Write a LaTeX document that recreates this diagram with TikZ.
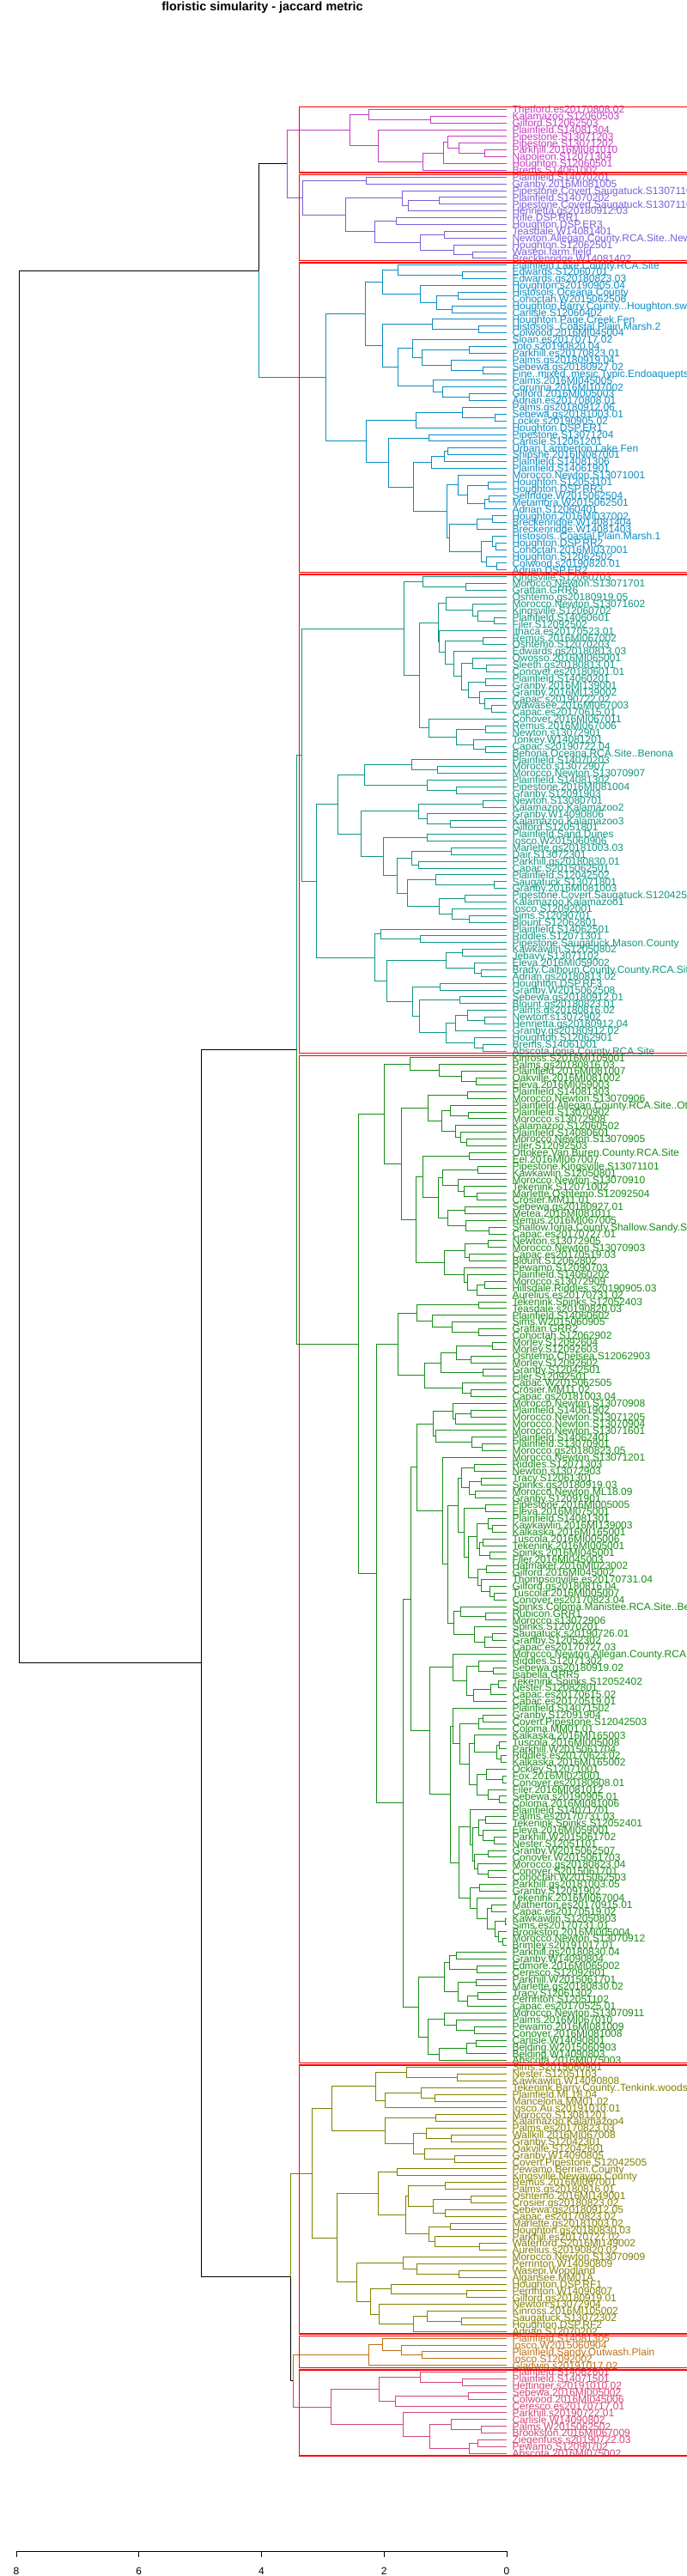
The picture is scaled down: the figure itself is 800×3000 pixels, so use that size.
\documentclass[tikz,border=0pt]{standalone}
\usepackage{fontspec}
\setmainfont{Liberation Sans}
\definecolor{magC}{HTML}{C43CC0}
\definecolor{purC}{HTML}{7B5CDA}
\definecolor{bluC}{HTML}{0A8CC2}
\definecolor{tealC}{HTML}{0E9682}
\definecolor{grnC}{HTML}{168C16}
\definecolor{oliC}{HTML}{808000}
\definecolor{oraC}{HTML}{BE6E14}
\definecolor{pnkC}{HTML}{D2467A}
\newcount\leafc
\newcount\labc
\newcount\spc
\def\dl{\global\advance\leafc by 1\relax
 \pgfmathsetmacro\tmpy{127.3+(\the\leafc-1)*7.89}%
 \global\advance\spc by 1\relax
 \expandafter\xdef\csname sy\the\spc\endcsname{\tmpy}%
 \expandafter\gdef\csname sx\the\spc\endcsname{590}}
\def\popb{\edef\yb{\csname sy\the\spc\endcsname}\edef\xb{\csname sx\the\spc\endcsname}\global\advance\spc by -1\relax
 \edef\ya{\csname sy\the\spc\endcsname}\edef\xa{\csname sx\the\spc\endcsname}\pgfmathsetmacro\ym{(\ya+\yb)/2}}
\def\pushm#1{\expandafter\xdef\csname sy\the\spc\endcsname{\ym}\expandafter\xdef\csname sx\the\spc\endcsname{#1}}
\def\mg#1{\popb\draw[dbr] (\xa,\ya) -- (#1,\ya) -- (#1,\yb) -- (\xb,\yb);\pushm{#1}}
\def\pq#1{\dl\dl\mg{#1}}
\def\mj#1#2#3{\popb\draw[lw,draw=#2] (\xa,\ya) -- (#1,\ya) -- (#1,\ym);\draw[lw,draw=#3] (\xb,\yb) -- (#1,\yb) -- (#1,\ym);\pushm{#1}}
\makeatletter
\def\labs#1#2{\@for\tlab:=#2\do{\global\advance\labc by 1\relax
 \pgfmathsetmacro\yl{127.3+(\the\labc-1)*7.89+4.3}%
 \node[lab,text=#1] (lb\the\labc) at (596.3,\yl) {\tlab};}}
\makeatother
\tikzset{lw/.style={line width=0.9pt},dbr/.style={lw,draw=black},
 redbox/.style={draw=red,line width=1.3pt},
 lab/.style={anchor=base west,inner sep=0pt,font=\fontsize{12}{12}\selectfont},
 axlab/.style={anchor=base,inner sep=0pt,font=\fontsize{12}{12}\selectfont}}
\begin{document}
\begin{tikzpicture}[x=1pt,y=-1pt]
\useasboundingbox (0,0) rectangle (800,3000);
\fill[white] (0,0) rectangle (800,3000);
\clip (0,0) rectangle (800,3000);
\node[font=\bfseries\fontsize{14.4}{16}\selectfont,anchor=base,inner sep=0pt] (title) at (305.5,13) {floristic simularity - jaccard metric};
% labels
\global\labc=0
\labs{magC}{Thetford.es20170808.02,Kalamazoo.S12060503,Gilford.S12062503,Plainfield.S14081304,Pipestone.S13071203,Pipestone.S13071202,Parkhill.2016MI081010,Napoleon.S12071304,Houghton.S12060501,Brems.S14061002}
\labs{purC}{Plainfield.S14070201,Granby.2016MI081005,Pipestone.Covert.Saugatuck.S13071101,Plainfield.S14070202,Pipestone.Covert.Saugatuck.S13071102,Henrietta.gs20180912.03,Rifle.DSP.RR1,Houghton.DSP.ER3,Teasdale.W14081401,Newton.Allegan.County.RCA.Site..Newton,Houghton.S12062501,Wasepi.farm.field,Breckenridge.W14081402}
\labs{bluC}{Plainfield.Lake.County.RCA.Site,Edwards.S12060701,Edwards.gs20180823.03,Houghton.s20190905.04,Histosols.Oceana.County,Cohoctah.W2015062506,Houghton.Barry.County...Houghton.swamp,Carlisle.S12060402,Houghton.Page.Creek.Fen,Histosols..Coastal.Plain.Marsh.2,Colwood.2016MI045004,Sloan.es20170717.02,Toto.s20190820.04,Parkhill.es20170823.01,Palms.gs20180919.04,Sebewa.gs20180927.02,Fine..mixed..mesic.Typic.Endoaquepts,Palms.2016MI045005,Corunna.2016MI107002,Gilford.2016MI005003,Adrian.es20170808.01,Palms.gs20180912.06,Sebewa.gs20181003.01,Locke.s20190905.02,Houghton.DSP.ER1,Pipestone.S13071204,Carlisle.S12061201,Urban.Lamberton.Lake.Fen,Shipshe.2016IN087001,Plainfield.S14081306,Plainfield.S14061901,Morocco.Newton.S13071001,Houghton.S12053101,Houghton.DSP.RR3,Selfridge.W2015062504,Metamora.W2015062501,Adrian.S12060401,Houghton.2016MI037002,Breckenridge.W14081404,Breckenridge.W14081403,Histosols..Coastal.Plain.Marsh.1,Houghton.DSP.RR2,Cohoctah.2016MI037001,Houghton.S12062502,Colwood.s20190820.01,Adrian.DSP.ER2}
\labs{tealC}{Kingsville.S12060703,Morocco.Newton.S13071701,Grattan.GRR6,Oshtemo.gs20180919.05,Morocco.Newton.S13071602,Kingsville.S12060702,Plainfield.S14060601,Filer.S12092502,Ithaca.es20170523.01,Remus.2016MI067002,Oshtemo.S12070203,Edwards.gs20180813.03,Owosso.2016MI065001,Sleeth.gs20180813.01,Conover.es20180601.01,Plainfield.S14060201,Granby.2016MI139001,Granby.2016MI139002,Capac.s20190722.02,Wawasee.2016MI067003,Capac.es20170615.01,Conover.2016MI067011,Remus.2016MI067006,Newton.s13072901,Tonkey.W14081201,Capac.s20190722.04,Benona.Oceana.RCA.Site..Benona,Plainfield.S14070203,Morocco.s13072907,Morocco.Newton.S13070907,Plainfield.S14081302,Pipestone.2016MI081004,Granby.S12091903,Newton.S13080701,Kalamazoo.Kalamazoo2,Granby.W14090806,Kalamazoo.Kalamazoo3,Gilford.S12051801,Plainfield.Sand.Dunes,Iosco.W2015060906,Marlette.gs20181003.03,Dair.S13072301,Parkhill.gs20180830.01,Capac.S2015062501,Plainfield.S12042502,Saugatuck.S13071801,Granby.2016MI081003,Pipestone.Covert.Saugatuck.S12042501,Kalamazoo.Kalamazoo1,Iosco.S12092001,Sims.S12090701,Blount.S12062801,Plainfield.S14062501,Riddles.S12071301,Pipestone.Saugatuck.Mason.County,Kawkawlin.S12050802,Jebavy.S13071102,Eleva.2016MI059002,Brady.Calhoun.County.County.RCA.Site,Adrian.gs20180813.02,Houghton.DSP.RF3,Granby.W2015062508,Sebewa.gs20180912.01,Blount.gs20180823.01,Palms.gs20180816.02,Newton.s13072902,Henrietta.gs20180912.04,Granby.gs20180912.02,Houghton.S12062901,Brems.S14061001,Abscota.Ionia.County.RCA.Site}
\labs{grnC}{Kinross.S2016MI105001,Palms.gs20180816.03,Plainfield.2016MI081007,Oakville.2016MI081002,Eleva.2016MI059003,Plainfield.S14081303,Morocco.Newton.S13070906,Plainfield.Allegan.County.RCA.Site..Otsego,Plainfield.S13070902,Morocco.s13072908,Kalamazoo.S12060502,Plainfield.S14080601,Morocco.Newton.S13070905,Filer.S12092503,Ottokee.Van.Buren.County.RCA.Site,Eel.2016MI067007,Pipestone.Kingsville.S13071101,Kawkawlin.S12050801,Morocco.Newton.S13070910,Tekenink.S12071002,Marlette.Oshtemo.S12092504,Crosier.MM11.01,Sebewa.gs20180927.01,Metea.2016MI081011,Remus.2016MI067005,Shallow.Ionia.County.Shallow.Sandy.Site,Capac.es20170727.01,Newton.s13072905,Morocco.Newton.S13070903,Capac.es20170519.03,Blount.S12062802,Pewamo.S12090703,Plainfield.S14060202,Morocco.s13072909,Hillsdale.Riddles.s20190905.03,Aurelius.es20170731.02,Tekenink.Spinks.S12052403,Teasdale.s20190820.03,Plainfield.S14060602,Sims.W2015060905,Grattan.GRR2,Cohoctah.S12062902,Morley.S12092604,Morley.S12092603,Oshtemo.Chelsea.S12062903,Morley.S12092602,Granby.S12042501,Filer.S12092501,Capac.W2015062505,Crosier.MM11.02,Capac.gs20181003.04,Morocco.Newton.S13070908,Plainfield.S14061902,Morocco.Newton.S13071205,Morocco.Newton.S13070904,Morocco.Newton.S13071601,Plainfield.S14062401,Plainfield.S13070901,Morocco.gs20180823.05,Morocco.Newton.S13071201,Riddles.S12071303,Newton.s13072903,Tracy.S12061301,Spinks.gs20180919.03,Morocco.Newton.ML18.09,Granby.S12091901,Pipestone.2016MI005005,Eleva.2016MI075001,Plainfield.S14081301,Kawkawlin.2016MI139003,Kalkaska.2016MI165001,Tuscola.2016MI005006,Tekenink.2016MI005001,Spinks.2016MI045001,Filer.2016MI045003,Hatmaker.2016MI023002,Gilford.2016MI045002,Thompsonville.es20170731.04,Gilford.gs20180816.04,Tuscola.2016MI005007,Conover.es20170823.04,Spinks.Coloma.Manistee.RCA.Site..Bear,Rubicon.GRR1,Morocco.s13072906,Spinks.S12070201,Saugatuck.s20190726.01,Granby.S12052302,Capac.es20170727.03,Morocco.Newton.Allegan.County.RCA.Site,Riddles.S12071302,Sebewa.gs20180919.02,Isabella.GRR5,Tekenink.Spinks.S12052402,Nester.S12082801,Capac.es20170615.02,Capac.es20170519.01,Plainfield.S14071502,Granby.S12091904,Covert.Pipestone.S12042503,Coloma.MM01.01,Kalkaska.2016MI165003,Tuscola.2016MI005008,Parkhill.W2015061704,Riddles.es20170623.02,Kalkaska.2016MI165002,Ockley.S12071001,Fox.2016MI023001,Conover.es20180608.01,Filer.2016MI081012,Sebewa.s20190905.01,Coloma.2016MI081006,Plainfield.S14071701,Palms.es20170731.03,Tekenink.Spinks.S12052401,Eleva.2016MI059001,Parkhill.W2015061702,Nester.S12051101,Granby.W2015062507,Conover.W2015061703,Morocco.gs20180823.04,Conover.S2015061701,Cohoctah.W2015062503,Parkhill.gs20181003.05,Granby.S12091902,Tekenink.2016MI067004,Matherton.es20170915.01,Capac.es20170519.02,Kawkawlin.S12050803,Sims.es20170731.01,Brookston.2016MI005004,Morocco.Newton.S13070912,Brimley.s20191017.01,Parkhill.gs20180830.04,Granby.W14090804,Edmore.2016MI065002,Ceresco.S12092601,Parkhill.W2015061701,Marlette.gs20180830.02,Tracy.S12061302,Perrinton.S12051102,Capac.es20170525.01,Morocco.Newton.S13070911,Palms.2016MI067010,Pewamo.2016MI081009,Conover.2016MI081008,Carlisle.W14090801,Belding.W2015060903,Belding.W14090803,Abscota.2016MI075003}
\labs{oliC}{Sims.S2015060901,Nester.S12051103,Kawkawlin.W14090808,Tekenink.Barry.County..Tenkink.woods,Plainfield.ML18.04,Mancelona.MM01.02,Iosco.Au.s20191010.01,Morocco.S13081201,Kalamazoo.Kalamazoo4,Palms.es20170823.03,Wallkill.2016MI067008,Granby.S12042301,Oakville.S12042601,Granby.W14090805,Covert.Pipestone.S12042505,Pewamo.Berrien.County,Kingsville.Newaygo.County,Remus.2016MI067001,Palms.gs20180816.01,Oshtemo.2016MI149001,Crosier.gs20180823.02,Sebewa.gs20180912.05,Capac.es20170823.02,Marlette.gs20181003.02,Houghton.gs20180830.03,Parkhill.es20170727.02,Waterford.S2016MI149002,Aurelius.s20190820.02,Morocco.Newton.S13070909,Perrinton.W14090809,Wasepi.Woodland,Algansee.MM01A,Houghton.DSP.RF1,Perrinton.W14090807,Gilford.gs20180919.01,Newton.s13072904,Kinross.2016MI105002,Saugatuck.S13072302,Houghton.DSP.RF2,Adrian.S12070202}
\labs{oraC}{Plainfield.S14081305,Iosco.W2015060904,Plainfield.Sandy.Outwash.Plain,Iosco.S12092002,Gladwin.s20191017.02}
\labs{pnkC}{Plainfield.S14062601,Plainfield.S14071501,Hettinger.s20191010.02,Sebewa.2016MI005002,Colwood.2016MI045006,Ceresco.es20170717.01,Parkhill.s20190722.01,Carlisle.W14090802,Palms.W2015062502,Brookston.2016MI067009,Ziegenfuss.s20190722.03,Pewamo.S12090702,Abscota.2016MI075002}
% tree (postfix: \dl = leaf, \mg{x} = merge top two at x)
\global\leafc=0 \global\spc=0
\tikzset{dbr/.style={lw,draw=magC}}
\dl\dl\dl\mg{501.7}\mg{429}\dl\dl\dl\dl\dl\mg{564.7}\mg{534.3}\mg{521.3}\dl\mg{516}\dl\mg{492.7}\mg{440.7}\mg{407.7}
\tikzset{dbr/.style={lw,draw=purC}}
\pq{426.7}\dl\pq{511.3}\dl\mg{475.3}\mg{468.3}\pq{461.7}\pq{517.7}\dl\pq{550.3}\mg{528.7}\mg{489.7}\mg{436.3}\mg{402.3}\mg{352.3}
\mj{334.3}{magC}{purC}
\tikzset{dbr/.style={lw,draw=bluC}}
\dl\pq{538.7}\mg{463.7}\dl\pq{533.7}\pq{526.3}\mg{508.7}\mg{489.3}\mg{445.7}\dl\pq{557.3}\mg{503.7}\dl\pq{546.7}\dl\pq{562.3}\mg{525.3}\mg{491.7}\mg{480.3}\dl\dl\pq{546.7}\mg{515.7}\mg{504.3}\mg{463.7}\mg{445.7}\mg{425.7}
\dl\pq{576.3}\mg{538.7}\dl\mg{484.3}\pq{499.7}\pq{521.3}\dl\mg{517.7}\dl\mg{502.3}\dl\pq{568.7}\pq{569.7}\dl\mg{564.7}\mg{544.3}\mg{533.3}\pq{573}\dl\mg{555.3}\dl\pq{577.3}\mg{573.3}\dl\pq{578.7}\mg{566.7}\mg{560.3}\mg{523}\mg{520.3}\mg{481.3}\mg{452.3}\mg{426.3}
\mg{379.7}
\mj{301.3}{black}{bluC}
\tikzset{dbr/.style={lw,draw=tealC}}
\dl\pq{542.7}\mg{492.3}\dl\dl\dl\pq{575.7}\mg{556.3}\mg{550}\mg{519.7}\dl\pq{562.3}\dl\dl\pq{566.3}\mg{550.3}\pq{565}\dl\dl\pq{572.3}\mg{564.7}\mg{558.3}\mg{545}\mg{537.7}\mg{528}\mg{518}\mg{511.3}\mg{510.7}\dl\pq{565.7}\dl\pq{565.7}\mg{551.3}\mg{531.3}\mg{499.7}\mg{488.3}\mg{470.3}
\dl\pq{509.3}\mg{479}\dl\pq{531.3}\mg{497.3}\mg{424.3}\pq{562.3}\dl\pq{524.3}\mg{497.3}\mg{487.3}\pq{497.3}\pq{525.3}\pq{487.3}\mg{479.3}\dl\pq{575.3}\mg{507.3}\pq{541.7}\dl\pq{546.7}\mg{526.3}\mg{511}\mg{474.3}\mg{462.3}\mg{446}\mg{420.3}\mg{393.3}\dl\pq{489.7}\mg{443.3}\pq{538.7}\dl\pq{560}\mg{552}\mg{519.3}\pq{512.3}\pq{535.3}\dl\pq{564.7}\mg{544.3}\dl\mg{530.3}\dl\pq{562}\mg{552}\mg{519.3}\mg{488.3}\mg{480.3}\mg{450}\mg{436.3}\mg{368.3}
\mg{351.3}
\tikzset{dbr/.style={lw,draw=grnC}}
\dl\dl\dl\pq{554.7}\mg{537.3}\mg{511.3}\mg{477.3}
\pq{544.3}\dl\pq{545.7}\mg{524.3}\dl\dl\pq{543.3}\mg{536.3}\mg{530}\mg{514}\mg{498}
\pq{546.7}\pq{556}\dl\dl\pq{555.7}\mg{540}\mg{533.7}\mg{515.3}\pq{541.3}\dl\pq{569.7}\mg{542.3}\mg{521.3}\mg{510.7}\mg{492.3}
\pq{568.3}\pq{546.7}\mg{541.3}\dl\dl\pq{564.7}\dl\mg{555.7}\mg{544}\mg{540}\mg{517.7}
\mg{484.3}\mg{467.3}\mg{447.3}
\pq{557.3}\dl\dl\pq{557.3}\mg{526.3}\mg{503.3}\mg{485.3}\pq{573.3}\pq{548.7}\mg{531.3}\pq{562.3}\mg{513.7}\dl\pq{548.7}\mg{538.3}\mg{494.3}\mg{463.7}
\dl\pq{548.3}\dl\mg{530}\mg{527.7}\dl\dl\pq{561.7}\mg{549}\mg{507.3}\mg{504.3}
\dl
\pq{552.3}\pq{560}\pq{553.7}\mg{546.7}\mg{537}
\pq{565.7}\dl\pq{573.3}\mg{568.3}\pq{562}\pq{570.3}\mg{558.3}\mg{555.7}\pq{566}\dl\dl\pq{575}\mg{570.7}\mg{560}\mg{556}\mg{545}\mg{540}
\mg{533.3}
\dl\pq{565.7}\mg{536.7}\dl\pq{573.3}\dl\mg{564.3}\mg{552.3}\mg{528.3}
\mg{521}\mg{515.3}\mg{485.7}
\dl\dl\pq{574}\mg{557}\pq{580}\dl\mg{571.7}\dl\mg{551}\mg{543.7}\mg{527.7}
\dl\pq{562.7}\dl\mg{557.7}\dl\pq{581.7}\pq{583.7}\mg{578.3}\mg{552.3}\dl\pq{585}\mg{566.7}\dl\pq{581.7}\mg{568.7}\mg{555}\mg{546.7}\mg{535.7}\mg{527.7}
\dl\pq{565.7}\dl\pq{575}\mg{562}\mg{557.7}\pq{568}\dl\pq{568.3}\mg{556}\mg{552}\mg{550}\mg{547.7}
\pq{558.3}\dl\pq{572.3}\pq{588.7}\dl\pq{585}\mg{580}\mg{576.7}\mg{567.7}\mg{555.7}\mg{547.3}
\mg{534.3}\mg{524.3}\mg{500.7}
\mg{478.3}
\pq{531.7}\pq{555.7}\mg{523.3}\pq{554.3}\pq{556}\dl\mg{544.3}\mg{533.3}\mg{517.7}\dl\dl\pq{552}\mg{531.7}\mg{517.7}\pq{554.3}\dl\mg{543.3}\dl\mg{511.3}\mg{498.7}\mg{487.3}
\mg{469.3}\mg{438.3}\mg{417.3}
\mj{345.3}{tealC}{grnC}
\tikzset{dbr/.style={lw,draw=oliC}}
\dl\pq{532.3}\mg{473.3}\dl\pq{506.7}\mg{490.7}\dl\mg{448.3}\mg{437.3}\pq{507.3}\dl\pq{525.7}\mg{496.3}\dl\pq{529.3}\mg{494.3}\mg{481.7}\mg{448.3}\mg{386.3}
\pq{462.7}\pq{518.7}\pq{548.7}\pq{518.7}\mg{504.7}\mg{475.7}\pq{524.3}\dl\pq{558.3}\mg{506.7}\mg{499.3}\mg{472.7}\mg{440.7}
\dl\dl\pq{534.3}\mg{485.7}\mg{469.3}\dl\pq{543.7}\mg{455.3}\dl\dl\pq{537.7}\mg{497.3}\dl\mg{481.7}\mg{441.3}\mg{431.3}\mg{415.3}\mg{392.3}
\mg{363.3}
\tikzset{dbr/.style={lw,draw=oraC}}
\dl\dl\pq{491.7}\mg{467.3}\mg{445.3}\dl\mg{429.3}
\tikzset{dbr/.style={lw,draw=pnkC}}
\dl\pq{538.7}\mg{489.3}\pq{545.7}\dl\mg{460.3}\mg{441.3}\dl\dl\pq{560}\mg{525.3}\pq{556.7}\dl\mg{546.7}\mg{500.7}\mg{469}\mg{385.3}
\mj{341.3}{oraC}{pnkC}
\mj{338.3}{oliC}{black}
\mj{234.3}{black}{black}
\mj{22.3}{black}{black}
% cluster rectangles
\foreach \a/\b in {1/10,11/23,24/69,70/140,141/289,290/329,330/334,335/347}
 \draw[redbox] (348.3,{127.3+(\a-1)*7.89-2.68}) rectangle (812,{127.3+(\b-1)*7.89+2.6});
% axis
\coordinate (ax0) at (19,2971);
\coordinate (ax1) at (590,2971);
\draw[lw] (ax0) -- (ax1);
\foreach \v/\xx in {8/19,6/161.75,4/304.5,2/447.25,0/590} {
 \draw[lw] (\xx,2971) -- (\xx,2978.3);
 \node[axlab] (tk\v) at (\xx,2998.3) {\v};
}
\end{tikzpicture}
\end{document}
